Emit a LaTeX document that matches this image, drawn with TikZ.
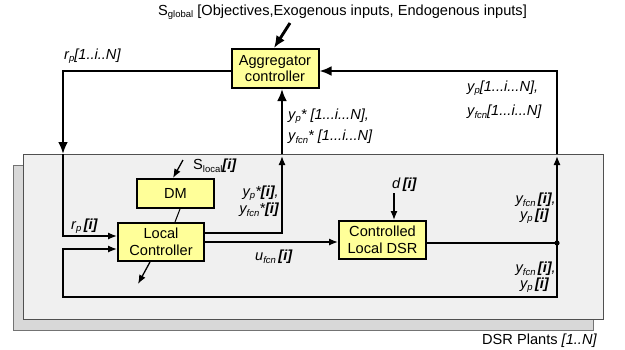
\documentclass[tikz,border=0pt]{standalone}
\usepackage{fontspec}
\setmainfont{Liberation Sans}
\usetikzlibrary{arrows.meta}
\definecolor{boxyellow}{RGB}{255,255,153}
\definecolor{platefront}{RGB}{240,240,240}
\definecolor{plateback}{RGB}{216,216,216}
\definecolor{plateedge}{RGB}{80,80,80}
\newcommand\lsub[1]{\raisebox{-0.3ex}{\fontsize{9.5}{9.5}\selectfont #1}}
\newcommand\bi[1]{\textbf{\textit{#1}}}
\begin{document}
\begin{tikzpicture}[x=1pt,y=-1pt,
  font=\fontsize{14.6}{16.5}\selectfont,
  blockbox/.style={draw,line width=2pt,fill=boxyellow,align=center,inner sep=0pt},
  outer/.style={line width=2.9pt,-{Latex[length=12pt,width=10pt]}},
  inner/.style={line width=1.3pt,-{Latex[length=9pt,width=7pt]}},
  plain/.style={line width=1.3pt},
  lbl/.style={inner sep=0pt,font=\fontsize{14.6}{16.5}\selectfont\itshape},
  txt/.style={inner sep=0pt}]
\useasboundingbox (0,0) rectangle (625,349);
% plates
\draw[plateedge!80,fill=plateback,line width=1pt] (13,165) rectangle (593,330);
\draw[plateedge,fill=platefront,line width=1pt] (23,154) rectangle (603,319);
% blocks
\node[blockbox,minimum width=87pt,minimum height=39pt] (agg) at (275,68.5) {Aggregator\\controller};
\node[blockbox,minimum width=77pt,minimum height=29pt] (dm) at (175.5,193.5) {DM};
\node[blockbox,minimum width=86pt,minimum height=38pt] (lc) at (161,242) {Local\\Controller};
\node[blockbox,minimum width=87pt,minimum height=38pt] (dsr) at (382.5,240) {Controlled\\Local DSR};
% coordinates
\coordinate (rpc) at (63,71);
\coordinate (rptop) at (63,154);
\coordinate (rpi) at (63,236);
\coordinate (ypc) at (282,233);
\coordinate (yptop) at (282,154);
\coordinate (rc) at (557,71);
\coordinate (rtop) at (557,154);
\coordinate (dot) at (557,243);
\coordinate (lb) at (557,297);
\coordinate (ll) at (63,297);
\coordinate (lt) at (63,249);
\coordinate (uf) at (300,242);
\coordinate (sgs) at (290,23);
\coordinate (sls) at (183,160);
\coordinate (slx) at (173,0);
\coordinate (ds) at (394,193);
\coordinate (lco) at (138,284);
% connectors
\draw[outer] (agg.west |- rpc) -- (rpc) -- (rptop);
\draw[inner] (rptop) -- (rpi) -- (lc.west |- rpi);
\draw[inner] (lc.east |- ypc) -- (ypc) -- ([yshift=-2pt]yptop);
\draw[outer] (yptop) -- (agg.south -| yptop);
\draw[inner] (dot) -- ([yshift=-2pt]rtop);
\draw[outer] (rtop) -- (rc) -- (agg.east |- rc);
\draw[inner] (lc.east |- uf) -- (dsr.west |- uf);
\draw[plain] (dsr.east |- dot) -- (dot);
\fill (dot) circle (2.6pt);
\draw[inner] (dot) -- (lb) -- (ll) -- (lt) -- (lc.west |- lt);
\draw[inner] (ds) -- (dsr.north -| ds);
\draw[inner] (sls) -- (dm.north -| slx);
\draw[outer] (sgs) -- ([xshift=-1pt]agg.north);
\draw[line width=1pt] ([xshift=4.5pt]dm.south) -- ([xshift=14pt]lc.north);
\draw[inner] ([xshift=-11pt]lc.south) -- (lco);
% labels
\node[txt,anchor=west] (sg) at (158,12) {S\lsub{global} [Objectives,Exogenous inputs, Endogenous inputs]};
\node[lbl,anchor=west] (rpN) at (64,56) {r\lsub{p}[1..i..N]};
\node[lbl,anchor=west] (ypsN) at (288,116) {y\lsub{p}* [1...i...N],};
\node[lbl,anchor=west] (yfsN) at (288,137) {y\lsub{fcn}* [1...i...N]};
\node[lbl,anchor=west] (ypN) at (467,88) {y\lsub{p}[1...i...N],};
\node[lbl,anchor=west] (yfN) at (467,112) {y\lsub{fcn}[1...i...N]};
\node[txt,anchor=west] (sl) at (193,166) {S\lsub{local}\bi{[i]}};
\node[lbl,anchor=east] (ypsi) at (279,193) {y\lsub{p}*\bi{[i]},};
\node[lbl,anchor=east] (yfsi) at (279,210) {y\lsub{fcn}*\bi{[i]}};
\node[lbl,anchor=west] (rpi-l) at (71,226) {r\lsub{p}\,\bi{[i]}};
\node[lbl,anchor=west] (uf-l) at (255,257) {u\lsub{fcn}\,\bi{[i]}};
\node[lbl,anchor=west] (d-l) at (392,185) {d\,\bi{[i]}};
\node[lbl,anchor=east] (yfi1) at (556,200) {y\lsub{fcn}\,\bi{[i]},};
\node[lbl,anchor=east] (ypi1) at (549,216) {y\lsub{p}\,\bi{[i]}};
\node[lbl,anchor=east] (yfi2) at (556,269) {y\lsub{fcn}\,\bi{[i]},};
\node[lbl,anchor=east] (ypi2) at (549,285) {y\lsub{p}\,\bi{[i]}};
\node[txt,anchor=west] (plants) at (482,341) {DSR Plants \textit{[1..N]}};
\end{tikzpicture}
\end{document}
